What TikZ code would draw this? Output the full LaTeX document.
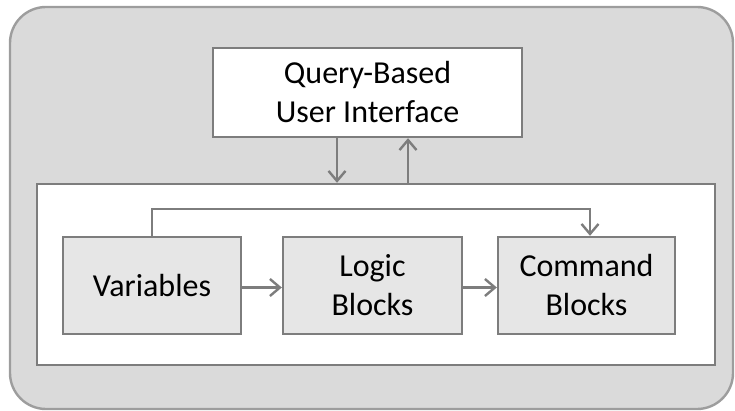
\documentclass[tikz,border=0pt]{standalone}
\usepackage{fontspec}
\setmainfont{Carlito}
\usetikzlibrary{arrows.meta,positioning}
\definecolor{Panelgray}{RGB}{218,218,218}
\definecolor{Blockgray}{RGB}{230,230,230}
\definecolor{Linegray}{RGB}{125,125,125}

\begin{document}
\begin{tikzpicture}[x=1pt,y=-1pt,
    block/.style={draw=Linegray, line width=2.4pt, fill=Blockgray, inner sep=0pt,
        minimum width=178pt, minimum height=97pt, align=center,
        font=\fontsize{32}{39}\selectfont},
    conn/.style={draw=Linegray, line width=2.4pt, -{Straight Barb[length=10pt,width=17pt,line width=2.4pt]}}]
      \useasboundingbox (0,0) rectangle (735,411);
      \node[draw=Linegray!75, line width=2.4pt, fill=Panelgray, rounded corners=36pt,
            minimum width=723pt, minimum height=402pt] (frame) at (371.5,208) {};
      \node[draw=Linegray, line width=2.4pt, fill=white,
            minimum width=678pt, minimum height=181pt] (core) at (376,274.5) {};
      \node[block, fill=white, minimum width=309pt, minimum height=89pt] (ui) at (367.5,92.5) {Query-Based\\User Interface};
            \node[block] (var) at (152,285.5) {Variables};
            \node[block, minimum width=179pt] (logic) at (372.5,285.5) {Logic\\Blocks};
            \node[block, minimum width=177pt] (cmd) at (586.5,285.5) {Command\\Blocks};
            \draw[conn] ([xshift=-30.5pt]ui.south) -- ([xshift=-30.5pt]ui.south |- core.north);
            \draw[conn] ([xshift=40.5pt]ui.south |- core.north) -- ([xshift=40.5pt]ui.south);
            \draw[conn] ([yshift=-2pt]var.east) -- ([yshift=-2pt]logic.west);
            \draw[conn] ([yshift=-2pt]logic.east) -- ([yshift=-2pt]cmd.west);
            \draw[conn] (var.north) -- ++(0,-27) -| ([xshift=3.5pt]cmd.north);
        \end{tikzpicture}
\end{document}
